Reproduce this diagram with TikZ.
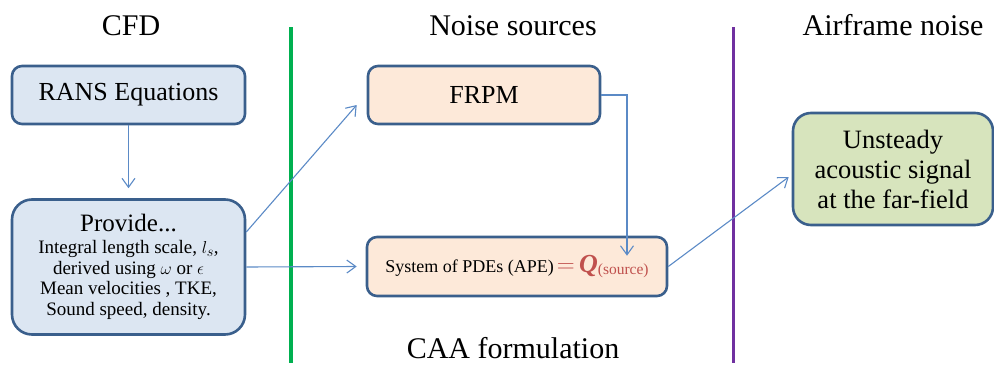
\documentclass[tikz,border=0pt]{standalone}
\usepackage{fontspec}
\setmainfont{Liberation Serif}
\usetikzlibrary{arrows.meta,calc}
\definecolor{boxline}{HTML}{3A5F8C}
\definecolor{bluefill}{HTML}{DCE6F2}
\definecolor{peachfill}{HTML}{FDE9D9}
\definecolor{greenfill}{HTML}{D7E4BD}
\definecolor{arrowblue}{HTML}{5B8AC6}
\definecolor{sepgreen}{HTML}{00B050}
\definecolor{seppurple}{HTML}{7030A0}
\definecolor{srcred}{HTML}{C0504D}
\newcommand{\bigtxt}{\fontsize{25}{28}\selectfont}
\tikzset{
  panel/.style={draw=boxline, line width=2.6pt, inner sep=0pt, align=center},
  bluebox/.style={panel, fill=bluefill},
  peachbox/.style={panel, fill=peachfill},
  greenbox/.style={panel, fill=greenfill},
  flow/.style={draw=arrowblue, line width=1.1pt, -{Straight Barb[length=9pt,width=13pt,line width=1.1pt]}},
  heading/.style={anchor=base, inner sep=0pt, font=\fontsize{30}{34}\selectfont},
  divider/.style={line width=3.6pt}
}
\begin{document}
\begin{tikzpicture}[x=1pt,y=-1pt]
\useasboundingbox (0,0) rectangle (994,367);

% column headings
\node[heading] (hcfd)   at (131,35)  {CFD};
\node[heading] (hnoise) at (513,35)  {Noise sources};
\node[heading] (hair)   at (893,35)  {Airframe noise};
\node[heading] (hcaa)   at (513,358) {CAA formulation};

% column dividers
\coordinate (gtop) at (291,27);  \coordinate (gbot) at (291,363);
\coordinate (ptop) at (733.5,27); \coordinate (pbot) at (733.5,363);
\draw[divider, sepgreen]  (gtop) -- (gbot);
\draw[divider, seppurple] (ptop) -- (pbot);

% CFD column
\node[bluebox, rounded corners=10pt, minimum width=233pt, minimum height=58pt,
      font=\fontsize{26}{30}\selectfont] (rans) at (128.5,95) {RANS Equations};
\node[bluebox, rounded corners=20pt, minimum width=233pt, minimum height=135pt,
      font=\fontsize{19}{20.7}\selectfont]
      (prov) at (128.5,267)
      {{\bigtxt Provide...}\\[1pt]
       Integral length scale, $l_s$,\\
       derived using $\omega$ or $\epsilon$\\
       Mean velocities , TKE,\\
       Sound speed, density.};

% noise source column
\node[peachbox, rounded corners=10pt, minimum width=232pt, minimum height=58pt,
      font=\fontsize{26}{30}\selectfont] (frpm) at (484,95) {FRPM};
\node[peachbox, rounded corners=10pt, minimum width=300pt, minimum height=59pt]
      (sys) at (517,266.5)
      {\fontsize{18}{20}\selectfont System of PDEs (APE)\,%
       \textcolor{srcred}{\fontsize{26}{28}\selectfont$=$\,\textbf{\textit{Q}}%
        \raisebox{-2pt}{\fontsize{15.5}{17}\selectfont(source)}}};

% far-field column
\node[greenbox, rounded corners=18pt, minimum width=200pt, minimum height=112pt,
      font=\fontsize{26.5}{30}\selectfont] (far) at (893,169)
      {Unsteady\\acoustic signal\\at the far-field};

% connectors
\draw[flow] (rans.south) -- ($(prov.north)+(0,-10)$);
\draw[flow] ($(prov.east)+(0,-35)$) -- ($(frpm.west)+(-10,10)$);
\draw[flow] (prov.east) -- ($(sys.west)+(-9,0)$);
\draw[flow] (frpm.east) -| ($(sys.north)+(110,20)$);
\draw[flow] (sys.east) -- ($(far.west)+(-3,8)$);
\end{tikzpicture}
\end{document}
